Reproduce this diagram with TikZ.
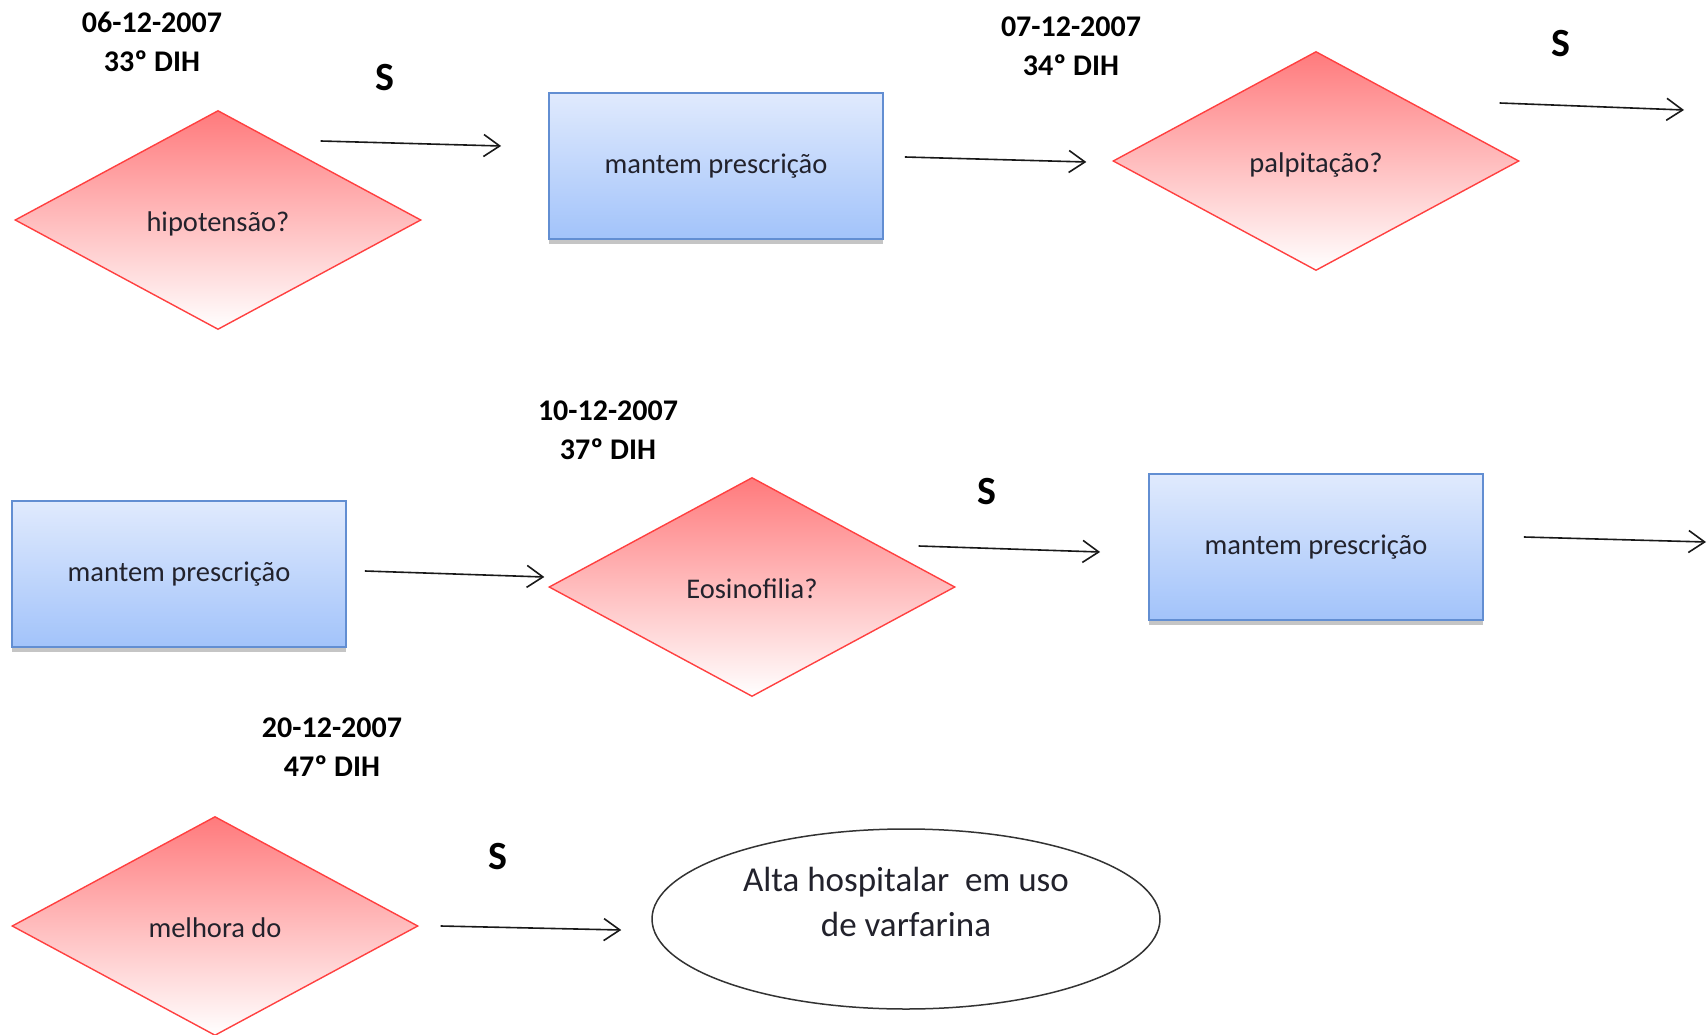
\documentclass[tikz,border=0pt]{standalone}
\usepackage{fontspec}
\setmainfont{Carlito}
\usetikzlibrary{arrows.meta, positioning, calc, shapes.geometric, shadows}
\definecolor{dtop}{RGB}{255,122,124}
\definecolor{dline}{RGB}{255,64,64}
\definecolor{btop}{RGB}{224,234,253}
\definecolor{bbot}{RGB}{162,195,250}
\definecolor{bline}{RGB}{98,142,210}
\definecolor{txt}{RGB}{34,34,44}

\begin{document}
\begin{tikzpicture}[x=1pt, y=-1pt,
  decision/.style={diamond, draw=dline, line width=1.4pt, top color=dtop,
              bottom color=white, minimum width=406pt, minimum height=219pt,
              inner sep=0pt, text=txt, text height=29pt, text depth=6pt,
              font=\fontsize{28.5}{34}\selectfont},
  action/.style={rectangle, draw=bline, line width=1.8pt, top color=btop,
              bottom color=bbot, minimum width=334pt, minimum height=146pt,
              text=txt, font=\fontsize{28.5}{34}\selectfont,
              drop shadow={shadow xshift=0pt, shadow yshift=-5pt,
                           fill=black!45, opacity=0.5}},
  final/.style={ellipse, draw=black!80, line width=1.5pt, fill=white,
              minimum width=508pt, minimum height=180pt, inner sep=0pt,
              align=center, text=txt, text depth=34pt,
              font=\fontsize{35}{45}\selectfont},
  day/.style={align=center, font=\bfseries\fontsize{30}{39}\selectfont},
  yes/.style={font=\bfseries\fontsize{40}{48}\selectfont},
  flow/.style={->, line width=1.6pt, black!90},
  >={Straight Barb[length=16pt, width=22pt]}]
\useasboundingbox (0,0) rectangle (1708,1035);

% first row
\node[decision] (hipo) at (218,220) {hipotensão?};
\node[action] (mant1) at (716,166) {mantem prescrição};
\node[decision] (palp) at (1316,161) {palpitação?};
\node[day] (day1) at (152,42) {06-12-2007\\33º DIH};
\node[day] (day2) at (1071,46) {07-12-2007\\34º DIH};
\node[yes] (s1) at (385,78) {S};
\node[yes] (s2) at (1561,44) {S};
\coordinate (out1) at (1684,110);

% second row
\node[action] (mant2) at (179,574) {mantem prescrição};
\node[decision] (eosi) at (752,587) {Eosinofilia?};
\node[action] (mant3) at (1316,547) {mantem prescrição};
\node[day] (day3) at (608,430) {10-12-2007\\37º DIH};
\node[yes] (s3) at (987,492) {S};
\coordinate (out2) at (1706,542);

% third row
\node[decision] (melh) at (215,926) {melhora do};
\node[final] (alta) at (906,919) {Alta hospitalar\ \ em uso\\de varfarina};
\node[day] (day4) at (332,747) {20-12-2007\\47º DIH};
\node[yes] (s4) at (498,857) {S};

\draw[flow] ($(hipo.east)+(-101,-79)$) -- ($(mant1.west)+(-47,-20)$);
\draw[flow] ($(mant1.east)+(21,-9)$) -- ($(palp.west)+(-26,1)$);
\draw[flow] ($(palp.east)+(-20,-58)$) -- (out1);
\draw[flow] ($(mant2.east)+(18,-3)$) -- ($(eosi.west)+(-4,-10)$);
\draw[flow] ($(eosi.east)+(-37,-41)$) -- ($(mant3.west)+(-48,5)$);
\draw[flow] ($(mant3.east)+(40,-10)$) -- (out2);
\draw[flow] ($(melh.east)+(22,0)$) -- ($(alta.west)+(-30,11)$);
\end{tikzpicture}
\end{document}
